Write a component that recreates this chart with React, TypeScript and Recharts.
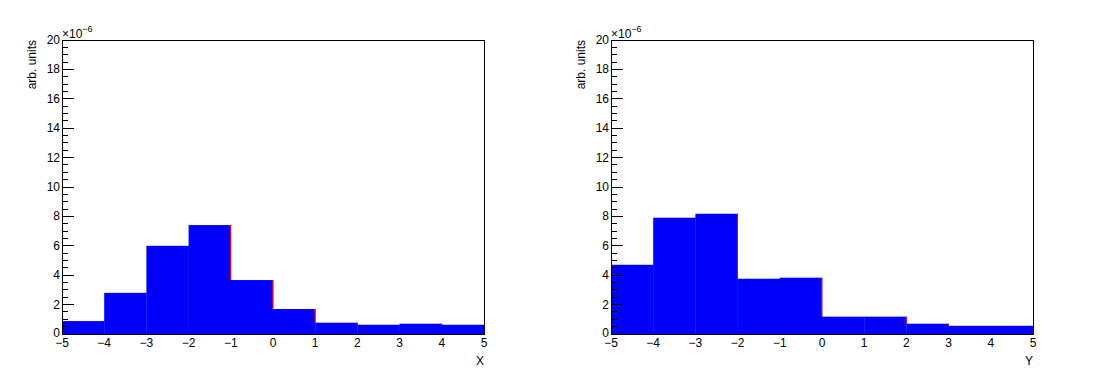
import React from 'react';
import { BarChart, Bar, XAxis, YAxis, ReferenceArea } from 'recharts';

// Bin centres of the 10 histogram bins spanning [-5, 5]
const binCenters = [-4.5, -3.5, -2.5, -1.5, -0.5, 0.5, 1.5, 2.5, 3.5, 4.5];
// X tick labels
const xTicks = [-5, -4, -3, -2, -1, 0, 1, 2, 3, 4, 5];
// Y major tick labels (in units of 1e-6)
const yMajorTicks = [0, 2, 4, 6, 8, 10, 12, 14, 16, 18, 20];
// Histogram contents (arb. units, x 1e-6)
const histX = [0.88, 2.8, 6.0, 7.41, 3.67, 1.7, 0.77, 0.63, 0.7, 0.63];
const histY = [4.71, 7.91, 8.18, 3.76, 3.83, 1.18, 1.18, 0.7, 0.56, 0.56];

const yTicks = yMajorTicks
  .flatMap((m) => [m, m + 0.5, m + 1, m + 1.5])
  .filter((v) => v <= 20);

const FONT = '"Liberation Sans", Arial, Helvetica, sans-serif';

const HistShape = (props: any) => {
  const { x, y, width, height, payload } = props;
  const v = payload.value;
  const next = payload.next;
  const k = v > 0 ? height / v : 0;
  const nextTop = y + height - next * k;
  return (
    <g>
      <rect x={x} y={y} width={width + 0.5} height={height} fill="#0000ff" />
      {next < v && (
        <rect x={x + width - 0.5} y={y} width={1} height={Math.max(0, nextTop - y)} fill="#ff0000" />
      )}
    </g>
  );
};

const XTick = (props: any) => {
  const { x, y, payload } = props;
  const label = String(payload.value).replace('-', '\u2212');
  return (
    <text x={x} y={y + 8.5} textAnchor="middle" dominantBaseline="central" fontFamily={FONT} fontSize={12} fill="#000">
      {label}
    </text>
  );
};

const YTick = (props: any) => {
  const { x, y, payload } = props;
  const v = payload.value;
  const major = v % 2 === 0;
  return (
    <g>
      <line x1={x} x2={x + (major ? 12 : 6)} y1={y} y2={y} stroke="#000" strokeWidth={1} shapeRendering="crispEdges" />
      {major && (
        <text x={x - 2} y={v === 0 ? y - 1 : y} textAnchor="end" dominantBaseline="central" fontFamily={FONT} fontSize={12} fill="#000">
          {String(v)}
        </text>
      )}
    </g>
  );
};

const YTitle = (props: any) => {
  const vb = props.viewBox || { x: 12, y: 40, width: 50, height: 294 };
  const cx = vb.x + 20;
  const top = vb.y;
  const right = vb.x + vb.width;
  return (
    <g>
      <text
        transform={`translate(${cx} ${top}) rotate(-90)`}
        x={0}
        y={0}
        textAnchor="end"
        dominantBaseline="central"
        fontFamily={FONT}
        fontSize={12}
        fill="#000"
      >
        arb. units
      </text>
      <text x={right} y={top - 2} fontFamily={FONT} fontSize={12} fill="#000">
        ×10
        <tspan fontSize={9} dy={-6}>
          {'\u22126'}
        </tspan>
      </text>
    </g>
  );
};

const makeXTitle = (t: string) => (props: any) => {
  const vb = props.viewBox || { x: 62, y: 334, width: 422, height: 42 };
  return (
    <text x={vb.x + vb.width} y={vb.y + 27} textAnchor="end" dominantBaseline="central" fontFamily={FONT} fontSize={12} fill="#000">
      {t}
    </text>
  );
};

function Panel({ values, title }: { values: number[]; title: string }) {
  const data = binCenters.map((c, i) => ({
    bin: c,
    value: values[i],
    next: i + 1 < values.length ? values[i + 1] : values[i],
  }));
  return (
    <BarChart
      width={549}
      height={376}
      data={data}
      margin={{ top: 40, right: 65, bottom: 0, left: 12 }}
      barCategoryGap={0}
      barGap={0}
    >
      <XAxis xAxisId="cat" dataKey="bin" type="category" hide height={0} />
      <XAxis
        xAxisId="num"
        type="number"
        dataKey="bin"
        domain={[-5, 5]}
        ticks={xTicks}
        interval={0}
        height={42}
        axisLine={{ stroke: '#000', strokeWidth: 1, shapeRendering: 'crispEdges' }}
        tickLine={false}
        tickSize={0}
        tickMargin={0}
        tick={<XTick />}
        allowDataOverflow
        label={{ content: makeXTitle(title) } as any}
      />
      <YAxis
        type="number"
        domain={[0, 20]}
        ticks={yTicks}
        interval={0}
        width={50}
        axisLine={{ stroke: '#000', strokeWidth: 1, shapeRendering: 'crispEdges' }}
        tickLine={false}
        tickSize={0}
        tickMargin={0}
        tick={<YTick />}
        allowDataOverflow
        label={{ content: (p: any) => <YTitle {...p} /> } as any}
      />
      <Bar xAxisId="cat" dataKey="value" isAnimationActive={false} shape={<HistShape />} />
      <ReferenceArea
        xAxisId="num"
        x1={-5}
        x2={5}
        y1={0}
        y2={20}
        fill="none"
        fillOpacity={0}
        stroke="#000"
        strokeWidth={1}
        ifOverflow="visible"
        shapeRendering="crispEdges"
      />
    </BarChart>
  );
}

export default function App() {
  return (
    <div style={{ position: 'absolute', left: 0, top: 0, width: 1098, height: 376, display: 'flex', background: '#fff' }}>
      <Panel values={histX} title="X" />
      <Panel values={histY} title="Y" />
    </div>
  );
}
